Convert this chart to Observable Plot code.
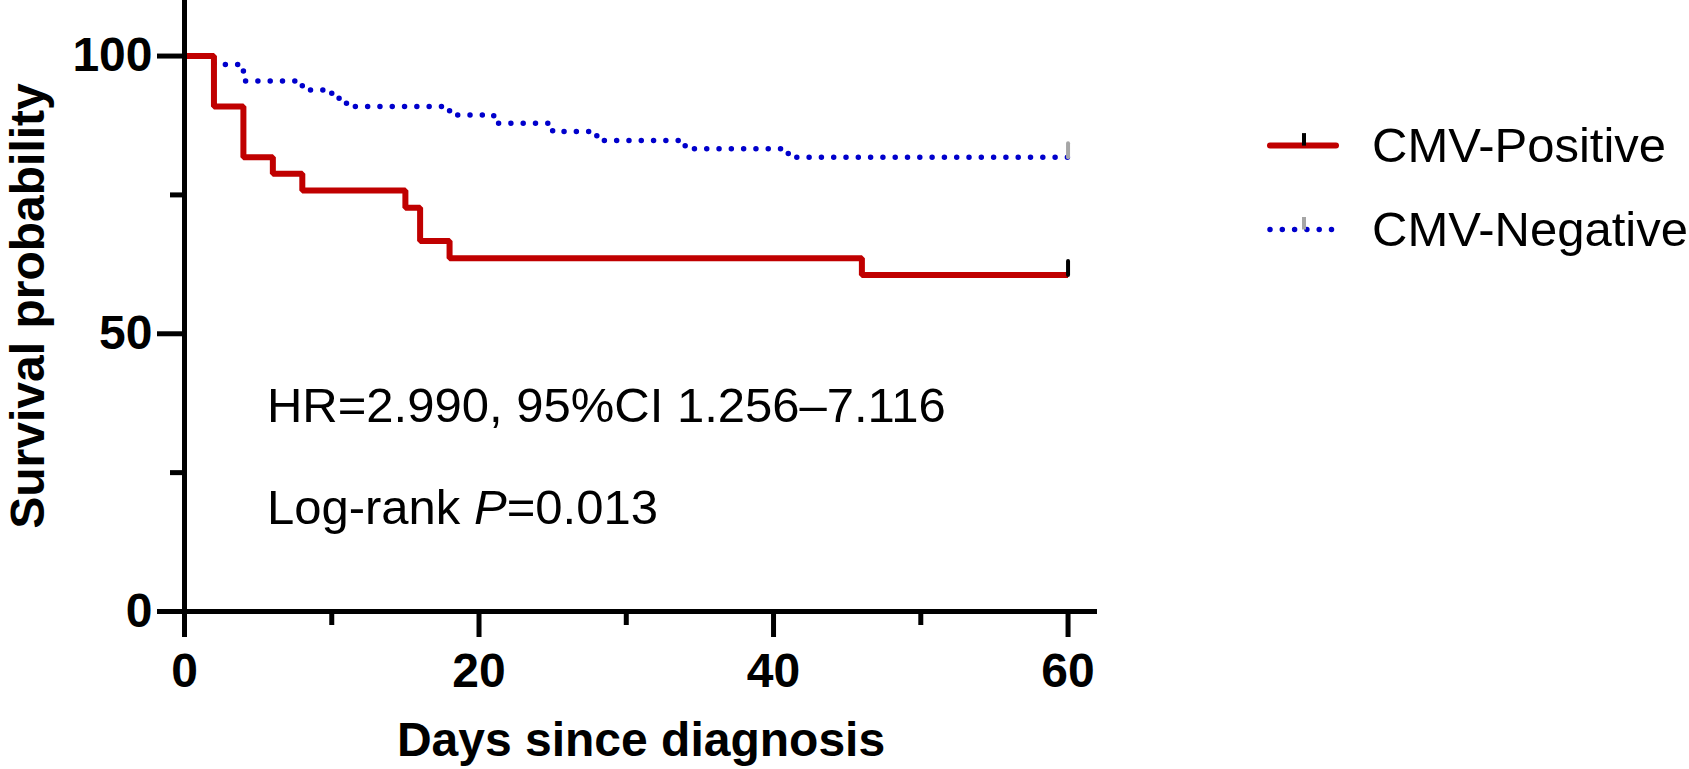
<!DOCTYPE html>
<html><head><meta charset="utf-8">
<script src="https://cdn.jsdelivr.net/npm/d3@7"></script>
<script src="https://cdn.jsdelivr.net/npm/@observablehq/plot@0.6"></script>
<style>
body{margin:0;background:#fff;}
#wrap{position:relative;width:1689px;height:769px;background:#fff;}
</style></head><body><div id="wrap"></div>
<script>
// Kaplan–Meier curves (days, survival %)
const posDays = [0, 2, 4, 6, 8, 15, 16, 18, 46, 60];
const posSurv = [100, 90.9, 81.8, 78.8, 75.8, 72.7, 66.7, 63.6, 60.6, 60.6];
const negDays = [0, 2, 4, 8, 10, 11, 18, 21, 25, 28, 34, 41, 60];
const negSurv = [100, 98.5, 95.5, 93.9, 92.4, 90.9, 89.4, 87.9, 86.4, 84.8, 83.3, 81.8, 81.8];
const groups = ["CMV-Positive", "CMV-Negative"];
const colors = ["#c00000", "#0000cc"];
const censorColors = ["#000000", "#a6a6a6"];
const xTicksMajor = [0, 20, 40, 60];
const xTicksMinor = [10, 30, 50];
const yTicksMajor = [0, 50, 100];
const yTicksMinor = [25, 75];
const annoX = [5.6, 5.6];
const annoY = [34.1, 15.8];
const annoText = ["HR=2.990, 95%CI 1.256–7.116", "Log-rank P=0.013"];

const pos = posDays.map((d, i) => ({day: d, surv: posSurv[i]}));
const neg = negDays.map((d, i) => ({day: d, surv: negSurv[i]}));
const annotations = annoText.map((t, i) => ({x: annoX[i], y: annoY[i], text: t}));
const font = "'Liberation Sans', Arial, Helvetica, sans-serif";
const tickShape = {draw(ctx, l) { ctx.moveTo(0, 0); ctx.lineTo(0, -l); }};

const chart = Plot.plot({
  width: 1689, height: 769,
  marginLeft: 184, marginRight: 592, marginTop: 0, marginBottom: 158,
  style: {fontFamily: font, background: "#fff", overflow: "visible", color: "#000"},
  x: {domain: [0, 62]},
  y: {domain: [0, 110]},
  marks: [
    Plot.line(neg, {x: "day", y: "surv", curve: "step-after", stroke: colors[1], strokeWidth: 5.5,
      strokeDasharray: "0 12.3", strokeLinecap: "round", strokeLinejoin: "round"}),
    Plot.line(pos, {x: "day", y: "surv", curve: "step-after", stroke: colors[0], strokeWidth: 6,
      strokeLinejoin: "miter", strokeLinecap: "butt"}),
    Plot.vector([pos[pos.length - 1]], {x: "day", y: "surv", length: 14, anchor: "start",
      stroke: censorColors[0], strokeWidth: 4, shape: tickShape}),
    Plot.vector([neg[neg.length - 1]], {x: "day", y: "surv", length: 14, anchor: "start",
      stroke: censorColors[1], strokeWidth: 4, shape: tickShape}),
    Plot.text(annotations, {x: "x", y: "y", text: "text", textAnchor: "start", lineAnchor: "bottom",
      fontSize: 49, fill: "#000"}),
    Plot.ruleX([0], {strokeWidth: 5}),
    Plot.ruleY([0], {strokeWidth: 5}),
    Plot.axisX(xTicksMajor, {tickSize: 26, tickPadding: 15, strokeWidth: 5, fontSize: 48, fontWeight: "bold",
      label: "Days since diagnosis", labelAnchor: "center", labelOffset: 144, labelArrow: "none"}),
    Plot.axisX(xTicksMinor, {tickSize: 14, strokeWidth: 5, tickFormat: () => "", label: null}),
    Plot.axisY(yTicksMajor, {tickSize: 27, tickPadding: 5, strokeWidth: 5, fontSize: 48, fontWeight: "bold",
      label: "Survival probability", labelAnchor: "center", labelOffset: 175, labelArrow: "none"}),
    Plot.axisY(yTicksMinor, {tickSize: 14, strokeWidth: 5, tickFormat: () => "", label: null})
  ]
});
document.getElementById("wrap").appendChild(chart);

// italic P in the log-rank annotation
chart.querySelectorAll("text").forEach(t => {
  if (t.textContent === annoText[1]) {
    t.textContent = "";
    const parts = [["Log-rank ", null], ["P", "italic"], ["=0.013", null]];
    parts.forEach(([s, st]) => {
      const ts = document.createElementNS("http://www.w3.org/2000/svg", "tspan");
      ts.textContent = s;
      if (st) ts.setAttribute("font-style", st);
      t.appendChild(ts);
    });
  }
});

// legend overlay
const lg = d3.select("#wrap").append("svg")
  .attr("width", 1689).attr("height", 769)
  .style("position", "absolute").style("left", "0px").style("top", "0px")
  .style("font-family", font);
const rows = [145.6, 229.5];
groups.forEach((g, i) => {
  const y = rows[i];
  const ln = lg.append("line").attr("x1", 1270).attr("x2", i === 0 ? 1336 : 1332)
    .attr("y1", y).attr("y2", y).attr("stroke", colors[i])
    .attr("stroke-width", i === 0 ? 6 : 5.5).attr("stroke-linecap", "round");
  if (i === 1) ln.attr("stroke-dasharray", "0 12.3");
  lg.append("line").attr("x1", 1304).attr("x2", 1304).attr("y1", y - 12.5).attr("y2", y)
    .attr("stroke", censorColors[i]).attr("stroke-width", 4);
  lg.append("text").attr("x", 1372).attr("y", y + 16.5)
    .attr("font-size", 49).attr("fill", "#000").text(g);
});
</script></body></html>
